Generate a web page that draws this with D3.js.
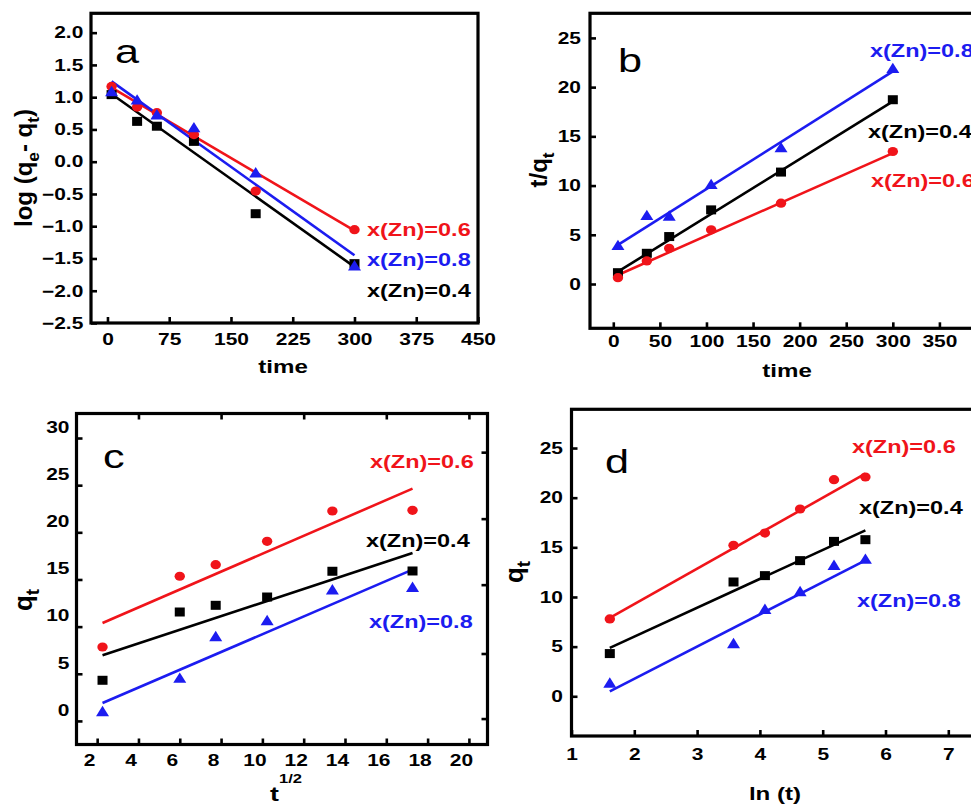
<!DOCTYPE html>
<html><head><meta charset="utf-8">
<script src="https://cdn.jsdelivr.net/npm/d3@7/dist/d3.min.js"></script>
<style>body{margin:0;background:#fff}svg{display:block}</style>
</head><body>
<svg id="chart" width="971" height="807"></svg>
<script>
// ---------------- data ----------------
const seriesNames = ["x(Zn)=0.4", "x(Zn)=0.6", "x(Zn)=0.8"];

// (a) pseudo-first-order: log(qe-qt) vs time
const timeA = [5, 36, 60, 105, 180, 300];
const aBlack = [1.04, 0.625, 0.55, 0.315, -0.806, -1.58];
const aRed   = [1.167, 0.847, 0.76, 0.42, -0.456, -1.054];
const aBlue  = [1.08, 0.95, 0.72, 0.52, -0.18, -1.62];
const aFitBlack = [1.05, -1.63];
const aFitRed   = [1.147, -1.07];
const aFitBlue  = [1.245, -1.45];
const aXTicks = [0, 75, 150, 225, 300, 375, 450];
const aYTicks = [-2.5, -2.0, -1.5, -1.0, -0.5, 0.0, 0.5, 1.0, 1.5, 2.0];

// (b) pseudo-second-order: t/qt vs time
const timeB = [5, 36, 60, 105, 180, 300];
const bBlack = [1.15, 3.12, 4.82, 7.53, 11.37, 18.72];
const bRed   = [0.64, 2.34, 3.63, 5.5, 8.21, 13.46];
const bBlue  = [3.87, 6.92, 6.85, 10.07, 13.8, 21.85];
const bFitBlack = [1.25, 18.55];
const bFitRed   = [0.92, 13.3];
const bFitBlue  = [3.97, 21.6];
const bXTicks = [0, 50, 100, 150, 200, 250, 300, 350];
const bYTicks = [0, 5, 10, 15, 20, 25];

// (c) intraparticle diffusion: qt vs t^1/2
const sqrtT = [2.26, 6.0, 7.74, 10.23, 13.39, 17.27];
const cBlack = [4.31, 11.55, 12.26, 13.14, 15.87, 15.9];
const cRed   = [7.84, 15.34, 16.57, 19.05, 22.26, 22.33];
const cBlue  = [0.95, 4.49, 8.9, 10.6, 13.85, 14.13];
const cFitBlack = [6.96, 17.8];
const cFitRed   = [10.39, 24.63];
const cFitBlue  = [1.9, 16.04];
const cXTicks = [2, 4, 6, 8, 10, 12, 14, 16, 18, 20];
const cYTicks = [0, 5, 10, 15, 20, 25, 30];
const cTopTicks = [4, 8, 12, 16, 20];
const cRightTicks = [0.25, 7.15, 14.45, 21.45, 28.5];

// (d) Elovich: qt vs ln(t)
const lnT = [1.61, 3.58, 4.08, 4.64, 5.18, 5.68];
const dBlack = [4.3, 11.51, 12.15, 13.66, 15.6, 15.77];
const dRed   = [7.79, 15.2, 16.44, 18.86, 21.81, 22.08];
const dBlue  = [1.28, 5.27, 8.72, 10.5, 13.15, 13.76];
const dFitBlack = [4.87, 16.71];
const dFitRed   = [7.89, 22.42];
const dFitBlue  = [0.5, 13.69];
const dXTicks = [1, 2, 3, 4, 5, 6, 7];
const dYTicks = [0, 5, 10, 15, 20, 25];

// ---------------- style ----------------
const BLACK = "#000000", RED = "#f0141a", BLUE = "#1c1cf0";
const FONT = "'Liberation Sans', Arial, Helvetica, sans-serif";
const SX = 1.27; // horizontal stretch of text seen in the figure

const svg = d3.select("#chart");

function addText(g, x, y, parts, o) {
  const rot = o.rot ? ` rotate(${o.rot})` : "";
  const sx = o.sx == null ? SX : o.sx;
  const t = g.append("text")
    .attr("transform", `translate(${x},${y}) scale(${sx},1)${rot}`)
    .attr("text-anchor", o.anchor || "start")
    .attr("font-family", FONT)
    .attr("font-weight", o.weight || "bold")
    .attr("font-size", o.size)
    .attr("fill", o.color || BLACK);
  let shift = 0;
  parts.forEach(p => {
    const ts = t.append("tspan").text(p.t);
    let target = 0;
    if (p.sub) { ts.attr("font-size", o.size * 0.72); target = o.size * 0.28; }
    if (p.sup) { ts.attr("font-size", o.size * 0.62); target = -o.size * (p.supShift || 0.9); }
    if (target - shift !== 0) ts.attr("dy", target - shift);
    shift = target;
  });
  return t;
}

function marker(g, shape, color, cx, cy) {
  if (shape === "square") {
    g.append("rect").attr("x", cx - 5).attr("y", cy - 4.5).attr("width", 10).attr("height", 9).attr("fill", color);
  } else if (shape === "circle") {
    g.append("ellipse").attr("cx", cx).attr("cy", cy).attr("rx", 5.2).attr("ry", 4.6).attr("fill", color);
  } else {
    g.append("path").attr("d", `M${cx},${cy - 6.2} L${cx + 6.5},${cy + 4.2} L${cx - 6.5},${cy + 4.2} Z`).attr("fill", color);
  }
}

function panel(cfg) {
  const g = svg.append("g");
  const x = d3.scaleLinear().domain(cfg.xDomain).range([cfg.frame[0], cfg.frame[2]]);
  const y = d3.scaleLinear().domain(cfg.yDomain).range([cfg.frame[3], cfg.frame[1]]);

  // axes (inward ticks)
  const ax = g.append("g").attr("transform", `translate(0,${cfg.frame[3]})`)
    .call(d3.axisBottom(x).tickValues(cfg.xTicks).tickFormat(cfg.xFmt || d3.format("d"))
      .tickSizeInner(-6).tickSizeOuter(0).tickPadding(cfg.xPad));
  const ay = g.append("g").attr("transform", `translate(${cfg.frame[0]},0)`)
    .call(d3.axisLeft(y).tickValues(cfg.yTicks).tickFormat(cfg.yFmt || d3.format("d"))
      .tickSizeInner(-6).tickSizeOuter(0).tickPadding(cfg.yGap / SX));
  [ax, ay].forEach(a => {
    a.select(".domain").remove();
    a.selectAll("line").attr("stroke", BLACK).attr("stroke-width", 2.6);
    a.selectAll("text").attr("font-family", FONT).attr("font-weight", "bold")
      .attr("font-size", 16.5).attr("fill", BLACK).attr("transform", `scale(${SX},1)`);
  });
  if (cfg.xLabelShift) ax.selectAll("text").attr("x", cfg.xLabelShift / SX);
  if (cfg.yLabelShift) ay.selectAll("text").attr("y", cfg.yLabelShift);

  if (cfg.topTicks) {
    const at = g.append("g").attr("transform", `translate(0,${cfg.frame[1]})`)
      .call(d3.axisTop(x).tickValues(cfg.topTicks).tickFormat("").tickSizeInner(-6).tickSizeOuter(0));
    at.select(".domain").remove();
    at.selectAll("line").attr("stroke", BLACK).attr("stroke-width", 2.6);
  }
  if (cfg.rightTicks) {
    const ar = g.append("g").attr("transform", `translate(${cfg.frame[2]},0)`)
      .call(d3.axisRight(y).tickValues(cfg.rightTicks).tickFormat("").tickSizeInner(-6).tickSizeOuter(0));
    ar.select(".domain").remove();
    ar.selectAll("line").attr("stroke", BLACK).attr("stroke-width", 2.6);
  }

  // frame
  g.append("rect").attr("x", cfg.frame[0]).attr("y", cfg.frame[1])
    .attr("width", cfg.frame[2] - cfg.frame[0]).attr("height", cfg.frame[3] - cfg.frame[1])
    .attr("fill", "none").attr("stroke", BLACK).attr("stroke-width", 3.2);

  // fit lines
  const line = d3.line().x(d => x(d[0])).y(d => y(d[1]));
  const xs = cfg.xData;
  cfg.series.forEach(s => {
    g.append("path").datum([[xs[0], s.fit[0]], [xs[xs.length - 1], s.fit[1]]])
      .attr("d", line).attr("stroke", s.color).attr("stroke-width", 2.6).attr("fill", "none");
  });
  // markers
  cfg.series.forEach(s => {
    s.vals.forEach((v, i) => marker(g, s.shape, s.color, x(xs[i]), y(v)));
  });

  // series labels
  cfg.series.forEach(s => addText(g, s.label[0], s.label[1], [{ t: s.name }], { size: 18.5, color: s.color }));

  // panel letter
  addText(g, cfg.letterPos[0], cfg.letterPos[1], [{ t: cfg.letter }], { size: 34, weight: "normal" });

  // axis titles
  addText(g, cfg.xTitle.pos[0], cfg.xTitle.pos[1], cfg.xTitle.parts, { size: cfg.xTitle.size || 19, anchor: "middle" });
  addText(g, cfg.yTitle.pos[0], cfg.yTitle.pos[1], cfg.yTitle.parts,
    { size: cfg.yTitle.size || 24, anchor: "middle", rot: -90, sx: 1 });
}

const shapes = { black: "square", red: "circle", blue: "triangle" };

panel({
  letter: "a", letterPos: [115, 63],
  frame: [91, 13.3, 478, 323], xDomain: [-20, 450], yDomain: [-2.5, 2.3],
  xTicks: aXTicks, yTicks: aYTicks, yFmt: d3.format(".1f"), xPad: 10, yGap: 7.7,
  xData: timeA,
  series: [
    { name: seriesNames[0], color: BLACK, shape: shapes.black, vals: aBlack, fit: aFitBlack, label: [367, 297] },
    { name: seriesNames[1], color: RED, shape: shapes.red, vals: aRed, fit: aFitRed, label: [367, 236] },
    { name: seriesNames[2], color: BLUE, shape: shapes.blue, vals: aBlue, fit: aFitBlue, label: [367, 266] }
  ],
  xTitle: { pos: [283, 373], parts: [{ t: "time" }] },
  yTitle: { pos: [32, 168], size: 24, parts: [{ t: "log (q" }, { t: "e", sub: true }, { t: "- q" }, { t: "t", sub: true }, { t: ")" }] }
});

panel({
  letter: "b", letterPos: [618, 72],
  frame: [590, 13.3, 986, 328.3], xDomain: [-25, 400], yDomain: [-4.5, 27.5],
  xTicks: bXTicks, yTicks: bYTicks, xPad: 7, yGap: 9,
  xData: timeB,
  series: [
    { name: seriesNames[0], color: BLACK, shape: shapes.black, vals: bBlack, fit: bFitBlack, label: [868, 138] },
    { name: seriesNames[1], color: RED, shape: shapes.red, vals: bRed, fit: bFitRed, label: [871, 187] },
    { name: seriesNames[2], color: BLUE, shape: shapes.blue, vals: bBlue, fit: bFitBlue, label: [870, 57] }
  ],
  xTitle: { pos: [787, 377], parts: [{ t: "time" }] },
  yTitle: { pos: [547, 170], size: 24, parts: [{ t: "t/q" }, { t: "t", sub: true }] }
});

panel({
  letter: "c", letterPos: [103, 468],
  frame: [76.5, 413.5, 487.5, 744.5], xDomain: [1, 20.9], yDomain: [-2.5, 32.6],
  xTicks: cXTicks, yTicks: cYTicks, xPad: 10, yGap: 7, xLabelShift: -8, yLabelShift: -11,
  topTicks: cTopTicks, rightTicks: cRightTicks,
  xData: sqrtT,
  series: [
    { name: seriesNames[0], color: BLACK, shape: shapes.black, vals: cBlack, fit: cFitBlack, label: [366, 547] },
    { name: seriesNames[1], color: RED, shape: shapes.red, vals: cRed, fit: cFitRed, label: [370, 468] },
    { name: seriesNames[2], color: BLUE, shape: shapes.blue, vals: cBlue, fit: cFitBlue, label: [369, 628] }
  ],
  xTitle: { pos: [286, 801], size: 21, parts: [{ t: "t" }, { t: "1/2", sup: true, supShift: 0.85 }] },
  yTitle: { pos: [32, 600], size: 26, parts: [{ t: "q" }, { t: "t", sub: true }] }
});

panel({
  letter: "d", letterPos: [605, 473],
  frame: [571.5, 409.3, 979.7, 736], xDomain: [1, 7.5], yDomain: [-4, 28.9],
  xTicks: dXTicks, yTicks: dYTicks, xPad: 12, yGap: 8.5,
  xData: lnT,
  series: [
    { name: seriesNames[0], color: BLACK, shape: shapes.black, vals: dBlack, fit: dFitBlack, label: [859, 514] },
    { name: seriesNames[1], color: RED, shape: shapes.red, vals: dRed, fit: dFitRed, label: [852, 453] },
    { name: seriesNames[2], color: BLUE, shape: shapes.blue, vals: dBlue, fit: dFitBlue, label: [857, 607] }
  ],
  xTitle: { pos: [775, 800], parts: [{ t: "ln (t)" }] },
  yTitle: { pos: [523, 572], size: 26, parts: [{ t: "q" }, { t: "t", sub: true }] }
});
</script>
</body></html>
